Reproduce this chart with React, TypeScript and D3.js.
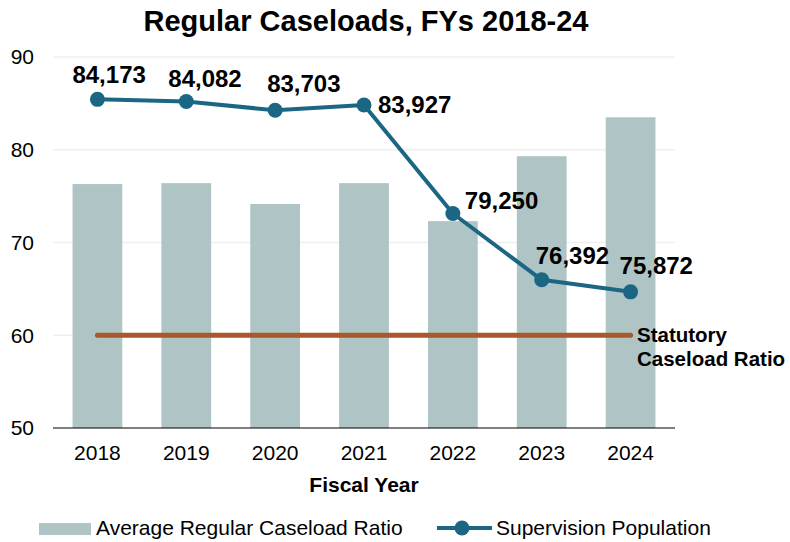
import React from "react";
import * as d3 from "d3";

const years = ["2018", "2019", "2020", "2021", "2022", "2023", "2024"];
const caseloadRatio = [76.3, 76.4, 74.15, 76.4, 72.3, 79.3, 83.5];
const population = [84173, 84082, 83703, 83927, 79250, 76392, 75872];
const statutoryRatio = 60;
const yTicks = [50, 60, 70, 80, 90];

// label offsets for the population values (dx, dy), left anchored
const labelPos: [number, number][] = [
  [-25, -16],
  [-18, -14],
  [-8, -18],
  [14, 8],
  [12, -5],
  [-6, -16],
  [-11, -18],
];

const W = 790;
const H = 542;
const margin = { top: 57, right: 115, bottom: 114, left: 53 };

export default function App() {
  const x = d3
    .scaleBand()
    .domain(years)
    .range([margin.left, W - margin.right])
    .paddingInner(0.44)
    .paddingOuter(0.22);
  const y = d3.scaleLinear().domain([50, 90]).range([H - margin.bottom, margin.top]);
  const y2 = d3.scaleLinear().domain([70000, 86000]).range([H - margin.bottom, margin.top]);
  const cx = (d: string) => (x(d) as number) + x.bandwidth() / 2;

  const line = d3
    .line<number>()
    .x((_, i) => cx(years[i]))
    .y((d) => y2(d));

  const fmt = d3.format(",");
  const font = "Arial, 'Liberation Sans', sans-serif";
  const lineColor = "#1b6783";
  const barColor = "#afc4c5";
  const statColor = "#a9572b";

  return (
    <svg width={W} height={H} style={{ position: "absolute", left: 0, top: 0 }} fontFamily={font}>
      <text x={366} y={31} textAnchor="middle" fontSize={29} fontWeight="bold">
        Regular Caseloads, FYs 2018-24
      </text>

      {yTicks.map((t) => (
        <g key={t}>
          {t > 50 && (
            <line x1={margin.left} x2={W - margin.right} y1={y(t)} y2={y(t)} stroke="#efefef" strokeWidth={1.5} />
          )}
          <text x={34} y={y(t)} dy="0.35em" textAnchor="end" fontSize={21}>
            {t}
          </text>
        </g>
      ))}

      {years.map((yr, i) => (
        <rect
          key={yr}
          x={x(yr)}
          y={y(caseloadRatio[i])}
          width={x.bandwidth()}
          height={y(50) - y(caseloadRatio[i])}
          fill={barColor}
        />
      ))}

      <line x1={margin.left} x2={W - margin.right} y1={y(50)} y2={y(50)} stroke="#000" strokeWidth={1.2} />

      {years.map((yr) => (
        <text key={yr} x={cx(yr)} y={460} textAnchor="middle" fontSize={21}>
          {yr}
        </text>
      ))}
      <text x={364} y={492} textAnchor="middle" fontSize={21} fontWeight="bold">
        Fiscal Year
      </text>

      <line
        x1={cx(years[0])}
        x2={cx(years[years.length - 1])}
        y1={y(statutoryRatio)}
        y2={y(statutoryRatio)}
        stroke={statColor}
        strokeWidth={5}
        strokeLinecap="round"
      />
      <text fontSize={20.5} fontWeight="bold">
        <tspan x={637} y={342}>Statutory</tspan>
        <tspan x={637} y={366}>Caseload Ratio</tspan>
      </text>

      <path d={line(population) || ""} fill="none" stroke={lineColor} strokeWidth={4} strokeLinejoin="round" />
      {population.map((p, i) => (
        <circle key={i} cx={cx(years[i])} cy={y2(p)} r={7.5} fill={lineColor} />
      ))}
      {population.map((p, i) => (
        <text
          key={i}
          x={cx(years[i]) + labelPos[i][0]}
          y={y2(p) + labelPos[i][1]}
          fontSize={24}
          fontWeight="bold"
        >
          {fmt(p)}
        </text>
      ))}

      <rect x={39} y={523} width={52} height={12} fill={barColor} />
      <text x={96} y={535} fontSize={21}>
        Average Regular Caseload Ratio
      </text>
      <line x1={437} x2={492} y1={528} y2={528} stroke={lineColor} strokeWidth={4} />
      <circle cx={462} cy={528} r={7.5} fill={lineColor} />
      <text x={496} y={535} fontSize={21}>
        Supervision Population
      </text>
    </svg>
  );
}
